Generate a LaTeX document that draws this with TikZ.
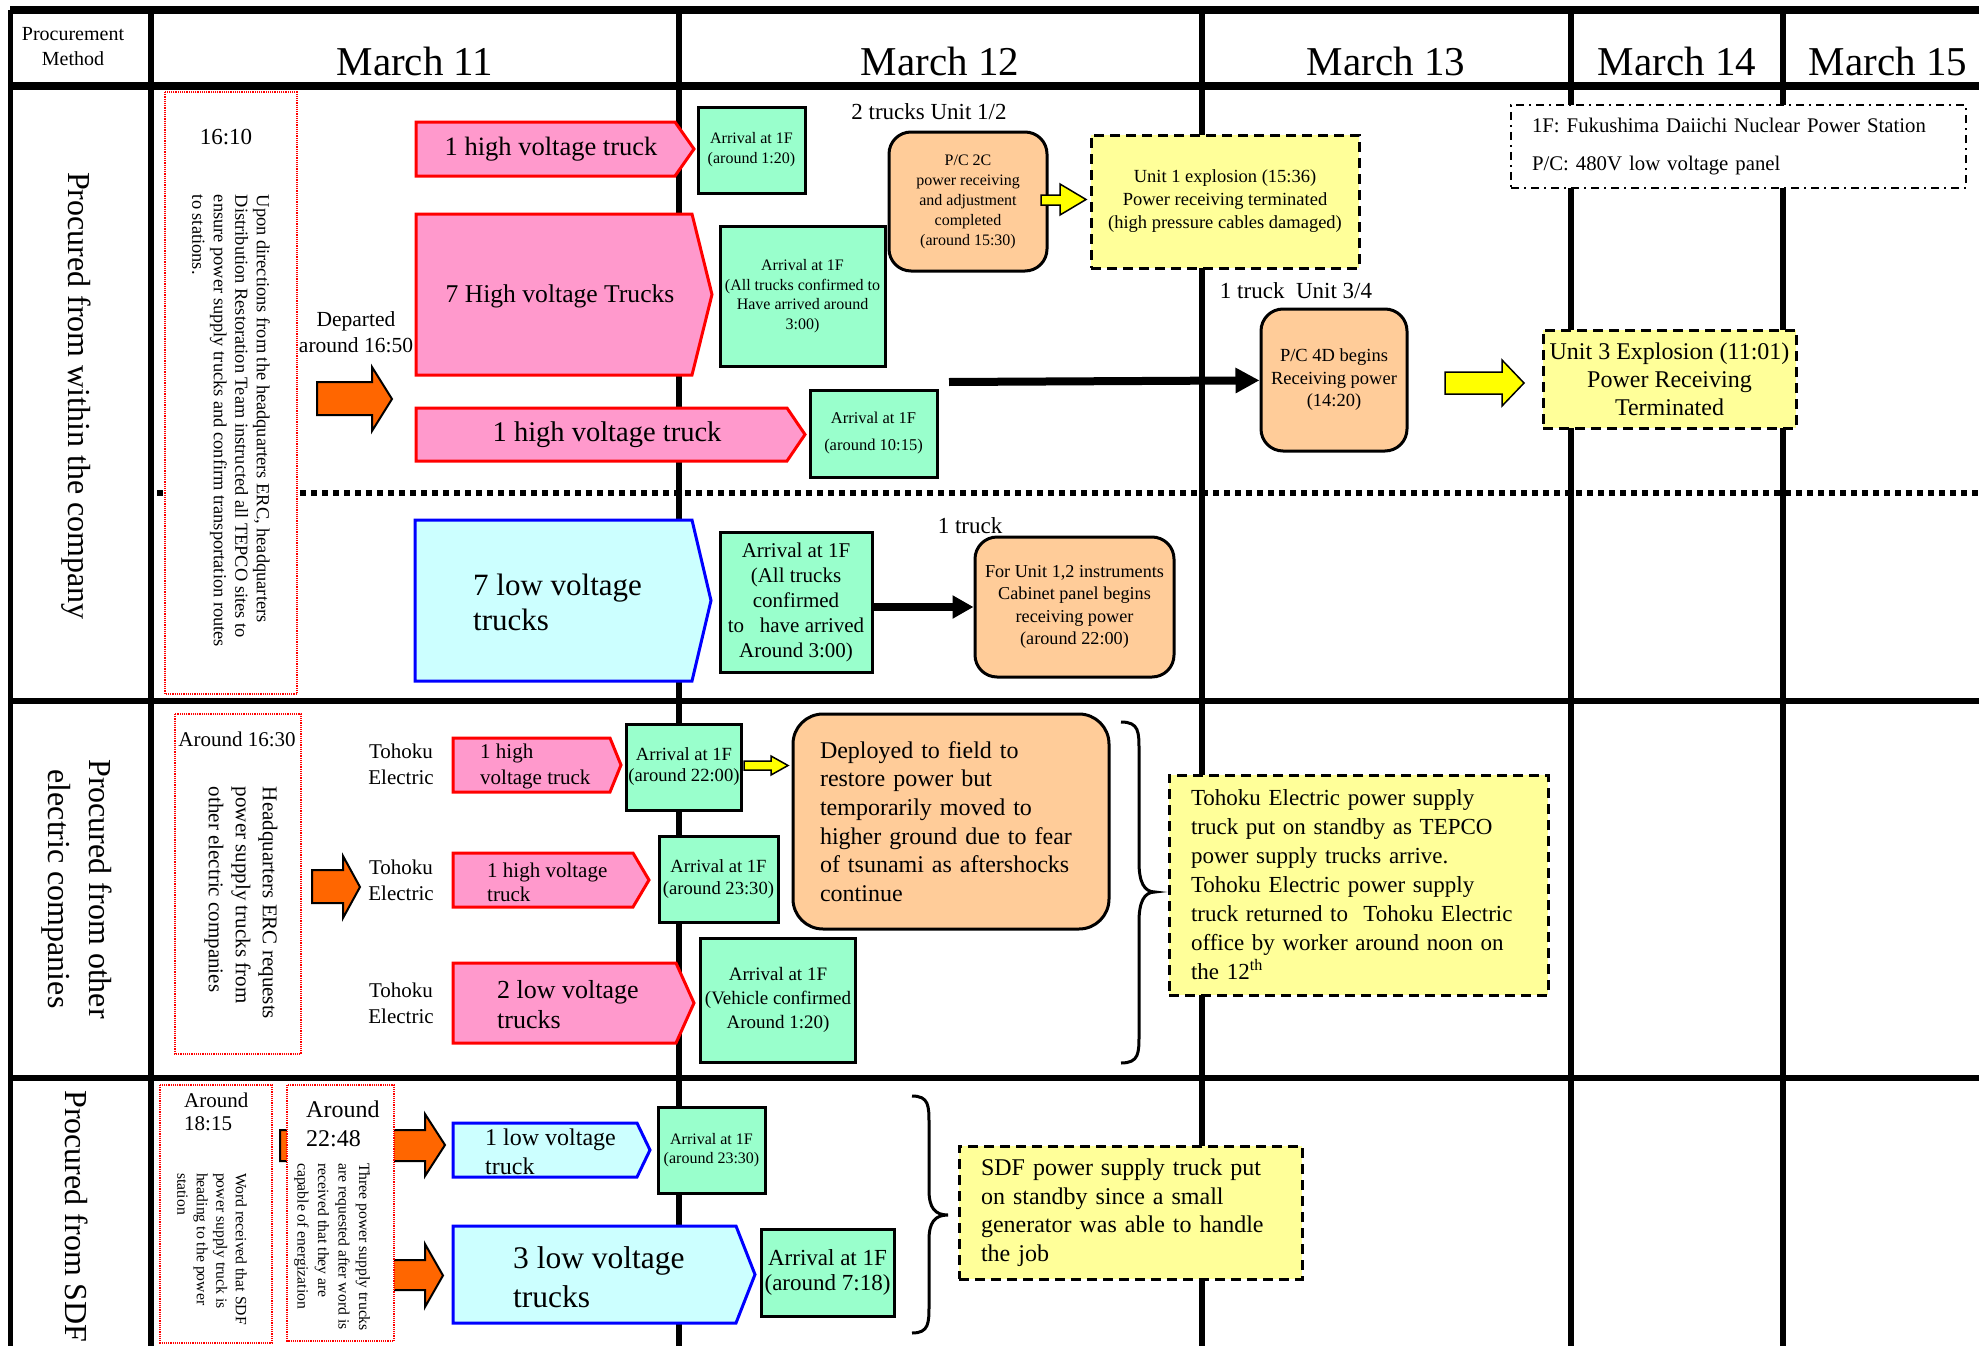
\documentclass[tikz,border=0pt]{standalone}
\usepackage{fontspec}
\setmainfont{Liberation Serif}
\usetikzlibrary{arrows.meta}

\definecolor{truckpink}{HTML}{FF99CC}
\definecolor{lowcyan}{HTML}{CCFFFF}
\definecolor{arrivegreen}{HTML}{99FFCC}
\definecolor{workpeach}{HTML}{FFCC99}
\definecolor{notepale}{HTML}{FFFF99}
\definecolor{flowyellow}{HTML}{FFFF00}
\definecolor{floworange}{HTML}{FF6600}

\newcommand{\setfs}[2]{\fontsize{#1}{#2}\selectfont}
% truck outline: style, left, body end, tip, top, bottom
\newcommand{\truckshape}[6]{\filldraw[#1] (#2,#5) -- (#3,#5) -- (#4,{(#5+#6)/2}) -- (#3,#6) -- (#2,#6) -- cycle;}
% fat arrow: style, tail, head base, tip, shaft top, shaft bottom, head top, head bottom
\newcommand{\fatarrow}[8]{\filldraw[#1] (#2,#5) -- (#3,#5) -- (#3,#7) -- (#4,{(#7+#8)/2}) -- (#3,#8) -- (#3,#6) -- (#2,#6) -- cycle;}

\tikzset{
  gridline/.style={line width=6pt},
  headline/.style={line width=8pt},
  splitline/.style={line width=6pt, dash pattern=on 6pt off 5pt},
  hvtruck/.style={fill=truckpink, draw=red, line width=3pt},
  lvtruck/.style={fill=lowcyan, draw=blue, line width=3pt},
  arrivebox/.style={draw, fill=arrivegreen, line width=3pt, align=center, inner sep=2pt},
  workbox/.style={draw, fill=workpeach, line width=3pt, rounded corners=22pt, align=center, inner sep=2pt},
  notebox/.style={draw, fill=notepale, line width=3pt, dash pattern=on 10pt off 6pt, align=center},
  keybox/.style={draw, fill=white, line width=2pt, dash pattern=on 8pt off 5pt on 2pt off 5pt},
  orderbox/.style={draw=red, fill=white, line width=1.2pt, densely dotted},
  feedline/.style={line width=8pt, -{Triangle[length=24pt,width=24pt]}},
  boldyellow/.style={fill=flowyellow, draw, line width=1.5pt},
  boldorange/.style={fill=floworange, draw, line width=2pt},
  bracket/.style={line width=3pt},
  lbl/.style={inner sep=0pt, align=center},
}

\begin{document}
\begin{tikzpicture}[x=1pt, y=-1pt]
    \useasboundingbox (0,0) rectangle (1979,1346);
    \clip (0,0) rectangle (1979,1346);
    \fill[white] (0,0) rectangle (1979,1346);

    % Table frame
    \draw[headline] (10,10) -- (1979,10);
    \draw[headline] (10,86) -- (1979,86);
    \draw[gridline] (10,701) -- (1979,701);
    \draw[gridline] (10,1078) -- (1979,1078);
    \foreach \x in {151,679,1202,1571,1783}
        \draw[gridline] (\x,10) -- (\x,1346);
    \draw[gridline, line width=5pt] (10,10) -- (10,1346);

    % Column heads
    \node[lbl, font=\setfs{20}{25}] (method) at (73,47) {Procurement\\Method};
    \foreach \d/\x in {11/415,12/940,13/1386,14/1677,15/1888}
        \node[lbl, font=\setfs{41}{41}] (day\d) at (\x,61) {March \d};

    % Row heads
    \node[lbl, rotate=-90, font=\setfs{32}{38}] (inside) at (76,396) {Procured from within the company};
    \node[lbl, rotate=-90, font=\setfs{32}{41}] (others) at (77,889) {Procured from other\\electric companies};
    \node[lbl, rotate=-90, anchor=west, font=\setfs{32}{38}] (sdf) at (77,1090) {Procured from SDF};

    % High voltage above, low voltage below
    \draw[splitline] (157,493) -- (1979,493);

    % Instructions
    \draw[orderbox] (165,92) rectangle (297,694);
    \draw[orderbox] (175,714) rectangle (301,1054);
    \draw[orderbox] (160,1085) rectangle (272,1343);
    \fatarrow{boldorange}{280}{425}{445}{1130}{1161}{1114}{1176}
    \fatarrow{boldorange}{380}{425}{443}{1260}{1290}{1244}{1307}
    \draw[orderbox] (287,1085) rectangle (394,1341);

    \node[lbl, font=\setfs{23}{27}] (t1610) at (226,137) {16:10};
    \node[lbl, rotate=-90, align=left, font=\setfs{18.4}{21.5}] (order1) at (231,421)
        {Upon directions from the headquarters ERC, headquarters\\Distribution Restoration Team instructed all TEPCO sites to\\ensure power supply trucks and confirm transportation routes\\to stations.};
    \node[lbl, font=\setfs{21}{25}] (t1630) at (237,739) {Around 16:30};
    \node[lbl, rotate=-90, align=left, font=\setfs{21}{27}] (order2) at (241,903)
        {Headquarters ERC requests\\power supply trucks from\\other electric companies};
    \node[lbl, anchor=west, align=left, font=\setfs{21}{23}] (t1815) at (184,1112) {Around\\18:15};
    \node[lbl, rotate=-90, align=left, font=\setfs{15.7}{19.5}] (order3) at (212,1249)
        {Word received that SDF\\power supply truck is\\heading to the power\\station};
    \node[lbl, anchor=west, align=left, font=\setfs{24}{29}] (t2248) at (306,1124) {Around\\22:48};
    \node[lbl, rotate=-90, align=left, font=\setfs{15.7}{20.5}] (order4) at (332,1247)
        {Three power supply trucks\\are requested after word is\\received that they are\\capable of energization};

    \node[lbl, font=\setfs{21.5}{26}] (depart) at (356,332) {Departed\\around 16:50};
    \fatarrow{boldorange}{317}{372}{392}{382}{415}{367}{431}
    \fatarrow{boldorange}{312}{343}{360}{870}{903}{856}{918}

    % Trucks sent from TEPCO
    \truckshape{hvtruck}{416}{675}{694}{122}{176}
    \node[lbl, font=\setfs{26.5}{30}] (hv1) at (551,149) {1 high voltage truck};
    \truckshape{hvtruck}{416}{692}{712}{214}{375}
    \node[lbl, font=\setfs{25.6}{30}] (hv7) at (560,296) {7 High voltage Trucks};
    \truckshape{hvtruck}{416}{787}{805}{408}{461}
    \node[lbl, font=\setfs{28.5}{30}] (hv1b) at (607,435) {1 high voltage truck};
    \truckshape{lvtruck}{415}{692}{711}{520}{681}
    \node[lbl, anchor=west, align=left, font=\setfs{31}{35}] (lv7) at (473,602) {7 low voltage\\trucks};

    \node[arrivebox, minimum width=107, minimum height=86, font=\setfs{16}{20}] (arr1) at (751.5,150) {Arrival at 1F\\(around 1:20)};
    \node[arrivebox, minimum width=165, minimum height=140, font=\setfs{16}{19.5}] (arr7) at (802.5,296) {Arrival at 1F\\(All trucks confirmed to\\Have arrived around\\3:00)};
    \node[arrivebox, minimum width=127, minimum height=87, font=\setfs{16.5}{27}] (arr1b) at (873.5,433.5) {Arrival at 1F\\(around 10:15)};
    \node[arrivebox, minimum width=152, minimum height=140, font=\setfs{21}{25}] (arrlv) at (796,602) {Arrival at 1F\\(All trucks\\confirmed\\to~~ have arrived\\Around 3:00)};

    \node[lbl, font=\setfs{23}{27}] (unit12) at (929,112) {2 trucks Unit 1/2};
    \node[workbox, minimum width=158, minimum height=139, font=\setfs{16}{20}] (pc2c) at (968,201.5) {P/C 2C\\power receiving\\and adjustment\\completed\\(around 15:30)};
    \fatarrow{boldyellow}{1041}{1060}{1086}{195}{205}{184}{215}
    \node[notebox, minimum width=268, minimum height=133, font=\setfs{18.5}{23}] (blast1) at (1225,201.5) {Unit 1 explosion (15:36)\\Power receiving terminated\\(high pressure cables damaged)};

    \node[lbl, font=\setfs{23}{27}] (unit34) at (1296,291) {1 truck~ Unit 3/4};
    \node[workbox, minimum width=146, minimum height=142, font=\setfs{18.5}{22.5}] (pc4d) at (1334,380) {P/C 4D begins\\Receiving power\\(14:20)};
    \coordinate (spare) at (949,382);
    \draw[feedline] (spare) -- (pc4d);
    \fatarrow{boldyellow}{1445}{1502}{1524}{372}{394}{360}{406}
    \node[notebox, minimum width=253, minimum height=98, font=\setfs{24}{28}] (blast3) at (1669.5,379) {Unit 3 Explosion (11:01)\\Power Receiving\\Terminated};

    \node[keybox, minimum width=455, minimum height=83, text width=413, align=left, font=\setfs{20.8}{38}] (key) at (1738.5,146.5)
        {1F: Fukushima Daiichi Nuclear Power Station\\P/C: 480V low voltage panel};

    \node[lbl, font=\setfs{23}{27}] (onetruck) at (970,526) {1 truck};
    \node[workbox, minimum width=199, minimum height=140, font=\setfs{18.2}{22.5}] (cabinet) at (1074.5,607) {For Unit 1,2 instruments\\Cabinet panel begins\\receiving power\\(around 22:00)};
    \draw[feedline, -{Triangle[length=21pt,width=22pt]}] (arrlv.east |- cabinet) -- (cabinet);

    % Trucks from Tohoku Electric
    \foreach \y [count=\i] in {764,880,1003}
        \node[lbl, font=\setfs{21}{26}] (tohoku\i) at (401,\y) {Tohoku\\Electric};
    \truckshape{hvtruck}{453}{610}{621}{738}{792}
    \node[lbl, anchor=west, align=left, font=\setfs{21}{26}] (th1) at (480,766) {1 high\\voltage truck};
    \truckshape{hvtruck}{453}{633}{649}{853}{907}
    \node[lbl, anchor=west, align=left, font=\setfs{21}{24}] (th2) at (487,882) {1 high voltage\\truck};
    \truckshape{hvtruck}{453}{676}{694}{963}{1043}
    \node[lbl, anchor=west, align=left, font=\setfs{26}{30}] (tl2) at (497,1005) {2 low voltage\\trucks};

    \node[arrivebox, minimum width=114, minimum height=86, font=\setfs{18.6}{21}] (arrth1) at (684,767) {Arrival at 1F\\(around 22:00)};
    \node[arrivebox, minimum width=119, minimum height=86, font=\setfs{18.6}{22}] (arrth2) at (718.5,879) {Arrival at 1F\\(around 23:30)};
    \node[arrivebox, minimum width=155, minimum height=124, font=\setfs{19}{24}] (arrtl) at (778,1000) {Arrival at 1F\\(Vehicle confirmed\\Around 1:20)};
    \fatarrow{boldyellow}{744}{771}{788}{761}{770}{756}{775}
    \node[workbox, rounded corners=30pt, minimum width=316, minimum height=215, text width=262, align=left, font=\setfs{24}{28.7}] (field) at (951,821.5)
        {Deployed to field to\\restore power but\\temporarily moved to\\higher ground due to fear\\of tsunami as aftershocks\\continue};

    \draw[bracket] (1121,722) .. controls (1139,722) and (1139,732) .. (1139,750) -- (1139,862)
        .. controls (1139,882) and (1144,892) .. (1155,892)
        .. controls (1144,892) and (1139,902) .. (1139,922) -- (1139,1035)
        .. controls (1139,1053) and (1139,1063) .. (1121,1063);
    \node[notebox, minimum width=379, minimum height=220, text width=335, align=left, font=\setfs{23}{29}] (standby1) at (1358.5,885)
        {Tohoku Electric power supply\\truck put on standby as TEPCO\\power supply trucks arrive.\\Tohoku Electric power supply\\truck returned to~ Tohoku Electric\\office by worker around noon on\\the 12\textsuperscript{th}};

    % Trucks from the SDF
    \truckshape{lvtruck}{453}{637}{650}{1123}{1177}
    \node[lbl, anchor=west, align=left, font=\setfs{24}{29}] (sdf1) at (485,1152) {1 low voltage\\truck};
    \truckshape{lvtruck}{453}{736}{755}{1226}{1323}
    \node[lbl, anchor=west, align=left, font=\setfs{31.5}{39}] (sdf3) at (513,1277) {3 low voltage\\trucks};
    \node[arrivebox, minimum width=107, minimum height=86, font=\setfs{16}{19}] (arrsdf1) at (711.5,1150) {Arrival at 1F\\(around 23:30)};
    \node[arrivebox, minimum width=133, minimum height=87, font=\setfs{23}{25}] (arrsdf3) at (827.5,1272.5) {Arrival at 1F\\(around 7:18)};

    \draw[bracket] (912,1096) .. controls (929,1096) and (929,1106) .. (929,1124) -- (929,1190)
        .. controls (929,1208) and (935,1215) .. (948,1215)
        .. controls (935,1215) and (929,1222) .. (929,1240) -- (929,1305)
        .. controls (929,1323) and (929,1333) .. (912,1333);
    \node[notebox, minimum width=343, minimum height=133, text width=299, align=left, font=\setfs{24}{28.5}] (standby2) at (1130.5,1212.5)
        {SDF power supply truck put\\on standby since a small\\generator was able to handle\\the job};
\end{tikzpicture}
\end{document}
